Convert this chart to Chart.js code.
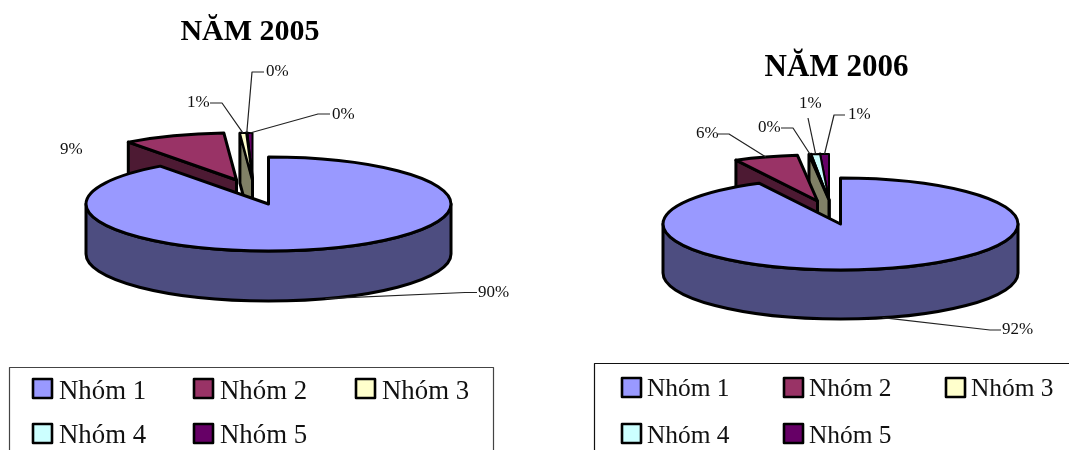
<!DOCTYPE html>
<html>
<head>
<meta charset="utf-8">
<style>
html,body{margin:0;padding:0;background:#fff;width:1069px;height:450px;overflow:hidden}
canvas{position:absolute;top:0}
</style>
<script src="https://cdn.jsdelivr.net/npm/chart.js@4"></script>
</head>
<body>
<canvas id="c1" width="530" height="450" style="left:0"></canvas>
<canvas id="c2" width="503" height="450" style="left:585px"></canvas>
<script>
const categories = ["Nhóm 1", "Nhóm 2", "Nhóm 3", "Nhóm 4", "Nhóm 5"];
const values2005 = [89.9, 9.0, 0.55, 0.1, 0.45];
const values2006 = [92.4, 5.8, 0.2, 0.8, 0.8];
const sliceColors = ["#9999FF", "#993366", "#FFFFCC", "#CCFFFF", "#660066"];
const wallColors = ["#4D4D80", "#4D1A33", "#808066", "#668080", "#330033"];
const FONT = '"Liberation Serif","Times New Roman",serif';

const layout2005 = {
  left: 0, cx: 268.5, cy: 204, rx: 182.5, ry: 47, depth: 50,
  explode: [[0,0],[-32,-24],[-16,-24],[-16,-24],[-16,-24]],
  labelFont: 17,
  labels: [
    {x:478,y:293,elbow:[[465,292.5],[477,292.5]]},
    {x:60,y:150,elbow:null},
    {x:187,y:103,elbow:[[222,103],[210,103]]},
    {x:266,y:72,elbow:[[252,72],[264,72]]},
    {x:332,y:115,elbow:[[318,114],[330,114]]}
  ],
  legend: {box:[9,367,484,120], font:26.8, border:"#444", swatch:19, rows:[379,424], cols:[33,194,356], textGap:26, base:[399,443]}
};
const layout2006 = {
  left: 585, cx: 840.5, cy: 224, rx: 177.5, ry: 46, depth: 49,
  explode: [[0,0],[-23,-23],[-11.5,-24],[-11.5,-24],[-11.5,-24]],
  labelFont: 17,
  labels: [
    {x:1002,y:330,elbow:[[990,330],[1001,330]]},
    {x:696,y:134,elbow:[[729,134],[718,134]]},
    {x:758,y:128,elbow:[[793,128],[781,128]]},
    {x:799,y:104,elbow:[[808,118]]},
    {x:848,y:115,elbow:[[834,115],[845,115]]}
  ],
  legend: {box:[594,363,520,120], font:25.4, border:"#111", swatch:19, rows:[378,424], cols:[622,784,946], textGap:25, base:[396,443]}
};

function pie3d(layout) {
  return {
    id: "pie3d",
    beforeDatasetsDraw(chart) {
      const ctx = chart.ctx, L = layout;
      const cx = L.cx - L.left, cy = L.cy;
      const arcs = chart.getDatasetMeta(0).data;
      const total = chart.data.datasets[0].data.reduce((a,b)=>a+b,0);
      const center = i => [cx + L.explode[i][0], cy + L.explode[i][1]];

      ctx.save();
      ctx.lineJoin = "round";
      ctx.strokeStyle = "#000";
      ctx.lineWidth = 3;

      // paint back to front: tiny exploded slices, then slice 2, then the main slice
      for (let i = arcs.length - 1; i >= 0; i--) {
        const a = arcs[i];
        const [ox, oy] = center(i);
        const s = a.startAngle, e = a.endAngle;

        // side wall
        ctx.beginPath();
        if (i === 0) {
          ctx.ellipse(ox, oy, L.rx, L.ry, 0, 0, Math.PI);
          ctx.lineTo(ox - L.rx, oy + L.depth);
          ctx.ellipse(ox, oy + L.depth, L.rx, L.ry, 0, Math.PI, 0, true);
          ctx.closePath();
        } else {
          const px = ox + L.rx * Math.cos(s), py = oy + L.ry * Math.sin(s);
          ctx.moveTo(ox, oy);
          ctx.lineTo(px, py);
          ctx.lineTo(px, py + L.depth);
          ctx.lineTo(ox, oy + L.depth);
          ctx.closePath();
        }
        ctx.fillStyle = wallColors[i];
        ctx.fill();
        ctx.stroke();

        // top face: the library's own arc, under an elliptical transform
        ctx.save();
        ctx.translate(ox, oy);
        ctx.scale(L.rx / a.outerRadius, L.ry / a.outerRadius);
        ctx.translate(-a.x, -a.y);
        a.draw(ctx, chart.chartArea);
        ctx.restore();

        // outline with even line width
        ctx.beginPath();
        ctx.moveTo(ox, oy);
        ctx.ellipse(ox, oy, L.rx, L.ry, 0, s, e);
        ctx.closePath();
        ctx.lineWidth = i >= 2 ? 2 : 3;
        ctx.stroke();
        ctx.lineWidth = 3;
      }

      // leader lines and percentage labels
      ctx.lineWidth = 1.2;
      ctx.strokeStyle = "#222";
      ctx.fillStyle = "#111";
      ctx.font = L.labelFont + "px " + FONT;
      ctx.textBaseline = "middle";
      ctx.textAlign = "left";
      arcs.forEach((a, i) => {
        const lab = L.labels[i];
        if (lab.elbow) {
          const [ox, oy] = center(i);
          const m = (a.startAngle + a.endAngle) / 2;
          const ax = ox + L.rx * Math.cos(m);
          const ay = oy + L.ry * Math.sin(m) + (i === 0 ? L.depth : 0);
          ctx.beginPath();
          ctx.moveTo(ax, ay);
          lab.elbow.forEach(p => ctx.lineTo(p[0] - L.left, p[1]));
          ctx.stroke();
        }
        const v = chart.data.datasets[0].data[i];
        ctx.fillText(Math.round(v / total * 100) + "%", lab.x - L.left, lab.y);
      });

      // legend panel, open at the bottom of the page
      const G = L.legend;
      ctx.strokeStyle = G.border;
      ctx.lineWidth = 1.2;
      ctx.strokeRect(G.box[0] - L.left + .5, G.box[1] + .5, G.box[2], G.box[3]);
      ctx.font = G.font + "px " + FONT;
      ctx.textBaseline = "alphabetic";
      chart.data.labels.forEach((t, i) => {
        const col = i % 3, row = Math.floor(i / 3);
        const x = G.cols[col] - L.left, y = G.rows[row];
        ctx.fillStyle = sliceColors[i];
        ctx.fillRect(x, y, G.swatch, G.swatch);
        ctx.strokeStyle = "#000";
        ctx.lineWidth = 2.6;
        ctx.strokeRect(x, y, G.swatch, G.swatch);
        ctx.fillStyle = "#111";
        ctx.fillText(t, x + G.textGap, G.base[row]);
      });
      ctx.restore();
      return false;
    }
  };
}

function makeChart(id, title, values, layout, titleSize, titleTop, padRight) {
  return new Chart(document.getElementById(id), {
    type: "pie",
    data: {
      labels: categories,
      datasets: [{ data: values, backgroundColor: sliceColors, borderWidth: 0 }]
    },
    options: {
      responsive: false,
      animation: false,
      devicePixelRatio: 1,
      layout: { padding: { right: padRight } },
      plugins: {
        legend: { display: false },
        tooltip: { enabled: false },
        title: {
          display: true, text: title, color: "#000",
          font: { family: FONT, size: titleSize, weight: "bold" },
          padding: { top: titleTop, bottom: 4 }
        }
      }
    },
    plugins: [pie3d(layout)]
  });
}

makeChart("c1", "NĂM 2005", values2005, layout2005, 30, 14, 30);
makeChart("c2", "NĂM 2006", values2006, layout2006, 31, 49, 0);
</script>
</body>
</html>
